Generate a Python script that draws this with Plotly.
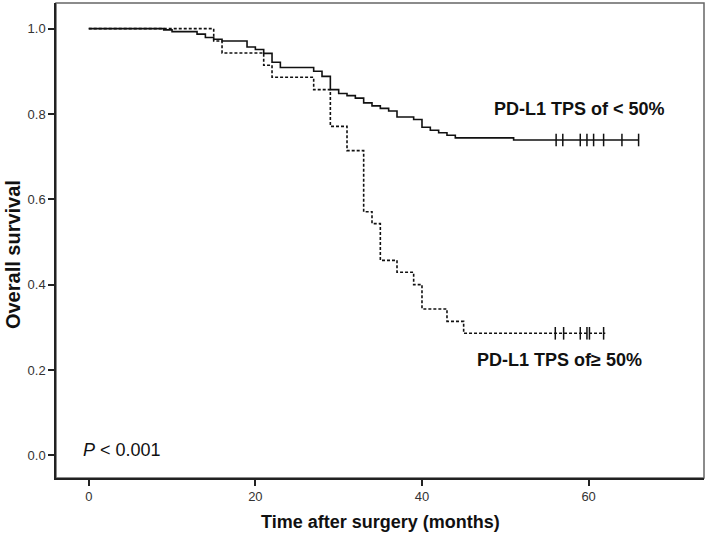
import plotly.graph_objects as go

# ---- data ----
low_times = [0, 9, 10, 13, 14, 15, 16, 19, 20, 21, 22, 23, 27, 28, 29, 30, 31, 32, 33, 34,
             35, 36, 37, 39, 40, 41, 42, 43, 44, 51]
low_surv = [1.0, 0.997, 0.993, 0.987, 0.979, 0.975, 0.971, 0.957, 0.951, 0.942, 0.921, 0.909,
            0.900, 0.888, 0.857, 0.848, 0.843, 0.837, 0.826, 0.819, 0.813, 0.807, 0.793, 0.787,
            0.769, 0.762, 0.756, 0.750, 0.744, 0.739]
low_end = 66
low_censor = [56.1, 56.9, 59.0, 59.8, 60.6, 61.8, 64.0, 66.0]

high_times = [0, 15, 16, 21, 22, 27, 29, 31, 33, 34, 35, 37, 39, 40, 43, 45]
high_surv = [1.0, 0.971, 0.943, 0.914, 0.886, 0.857, 0.771, 0.714, 0.571, 0.543, 0.457,
             0.429, 0.400, 0.343, 0.314, 0.286]
high_end = 62
high_censor = [56.0, 57.0, 59.0, 59.8, 60.1, 61.8]

x_ticks = [0, 20, 40, 60]
y_ticks = [0.0, 0.2, 0.4, 0.6, 0.8, 1.0]

FONT = "Liberation Sans, Arial, sans-serif"


def surv_at(times, surv, t):
    v = surv[0]
    for ti, si in zip(times, surv):
        if ti <= t:
            v = si
    return v


fig = go.Figure()

for times, surv, end, cens, dash in [
    (low_times, low_surv, low_end, low_censor, "solid"),
    (high_times, high_surv, high_end, high_censor, "3px,2px"),
]:
    xs = list(times) + [end]
    ys = list(surv) + [surv[-1]]
    fig.add_trace(go.Scatter(x=xs, y=ys, mode="lines", line_shape="hv",
                             line=dict(color="#111", width=1.6, dash=dash),
                             hoverinfo="skip", showlegend=False))
    fig.add_trace(go.Scatter(x=cens, y=[surv_at(times, surv, c) for c in cens],
                             mode="markers",
                             marker=dict(symbol="line-ns", size=9,
                                         line=dict(color="#111", width=1.5)),
                             hoverinfo="skip", showlegend=False))

# frame (top / right in grey)
fig.add_shape(type="rect", xref="paper", yref="paper", x0=0, y0=0, x1=1, y1=1,
              line=dict(color="#666", width=1.5), layer="below")

fig.add_annotation(x=48.4, y=0.812, xref="x", yref="y", xanchor="left", yanchor="middle",
                   text="PD-L1 TPS of < 50%", showarrow=False,
                   font=dict(family=FONT, size=18, color="#111", weight="bold"))
fig.add_annotation(x=46.4, y=0.224, xref="x", yref="y", xanchor="left", yanchor="middle",
                   text="PD-L1 TPS of≥ 50%", showarrow=False,
                   font=dict(family=FONT, size=18, color="#111", weight="bold"))
fig.add_annotation(x=-0.9, y=0.013, xref="x", yref="y", xanchor="left", yanchor="middle",
                   text="<i>P</i> < 0.001", showarrow=False,
                   font=dict(family=FONT, size=18, color="#111"))

# axis titles
fig.add_annotation(x=0.5, y=-0.092, xref="paper", yref="paper", xanchor="center",
                   yanchor="middle", text="Time after surgery (months)", showarrow=False,
                   font=dict(family=FONT, size=18, color="#111", weight="bold"))
fig.add_annotation(x=-0.0674, y=0.47, xref="paper", yref="paper", xanchor="center",
                   yanchor="middle", text="Overall survival", textangle=-90, showarrow=False,
                   font=dict(family=FONT, size=20, color="#111", weight="bold"))

fig.update_xaxes(range=[-3.93, 73.85], tickvals=x_ticks, ticktext=[str(v) for v in x_ticks],
                 showgrid=False, zeroline=False, showline=True, linecolor="#222",
                 linewidth=1.5, ticks="outside", ticklen=6, tickwidth=1.5, tickcolor="#222",
                 tickfont=dict(family=FONT, size=13, color="#333"))
fig.update_yaxes(range=[-0.053, 1.060], tickvals=y_ticks,
                 ticktext=[f"{v:.1f}" for v in y_ticks],
                 showgrid=False, zeroline=False, showline=True, linecolor="#222",
                 linewidth=1.5, ticks="outside", ticklen=6, tickwidth=1.5, tickcolor="#222",
                 tickfont=dict(family=FONT, size=13, color="#333"))

fig.update_layout(width=709, height=534, margin=dict(l=56, r=5, t=3, b=56),
                  plot_bgcolor="white", paper_bgcolor="white", showlegend=False)

fig.write_html("out.html", config={"displayModeBar": False},
               post_script="document.body.style.margin='0';document.body.style.overflow='hidden';")
